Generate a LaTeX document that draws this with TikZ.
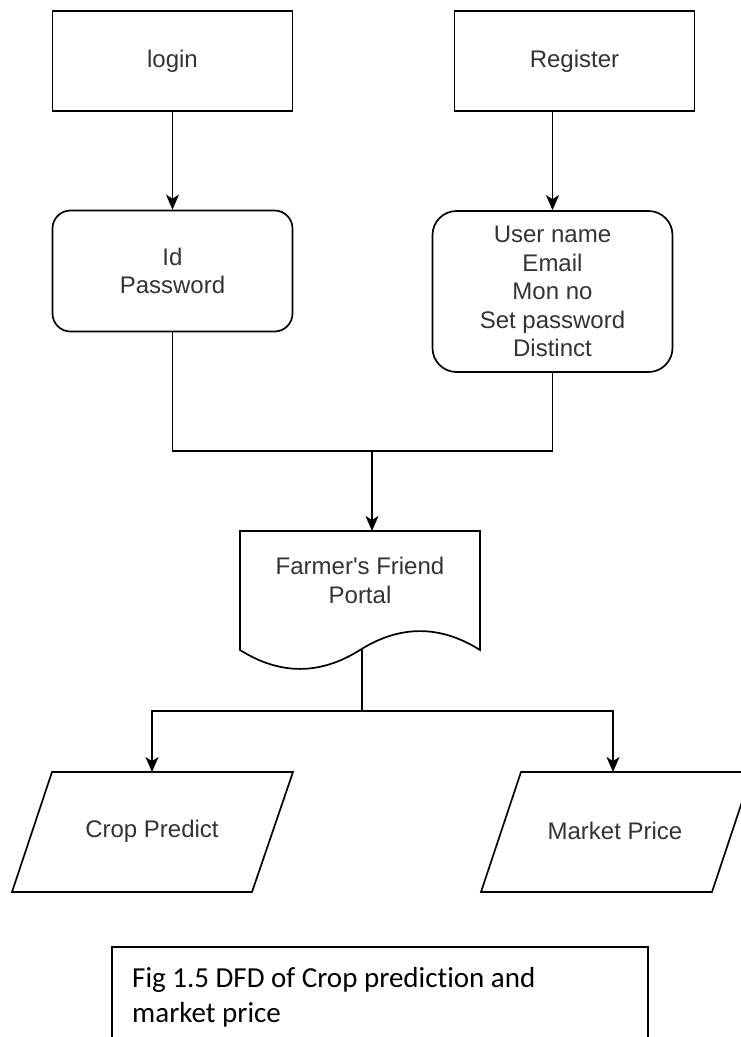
\documentclass[tikz,border=0pt]{standalone}
\usepackage{fontspec}
\setmainfont{Liberation Sans}
\newfontfamily\capfont[Ligatures=NoCommon]{Carlito}
\usetikzlibrary{arrows.meta}
\begin{document}
\begin{tikzpicture}[x=1pt,y=-1pt,
  ln/.style={line width=1.7pt},
  box/.style={draw, line width=1.7pt, minimum width=240pt, inner sep=0pt,
    text=black!80, font=\fontsize{24}{28.5}\selectfont, align=center},
  rbox/.style={box, rounded corners=18pt},
  txt/.style={inner sep=0pt, text=black!80, font=\fontsize{24}{29}\selectfont, align=center},
  arr/.style={line width=1.7pt, -{Stealth[length=15pt,width=13pt,inset=4pt]}},
  capt/.style={inner sep=0pt, font=\capfont\fontsize{29}{35}\selectfont}
]
\useasboundingbox (0,0) rectangle (741,1037);
\fill[white] (0,0) rectangle (741,1037);

% top boxes
\node[box, minimum height=100pt] (login) at (172.5,61) {login};
\node[box, minimum height=100pt] (reg) at (574.5,61) {Register};
\node[rbox, minimum height=121pt] (id) at (172.5,271) {Id\\Password};
\node[rbox, rounded corners=24pt, minimum height=161pt] (det) at (552.5,291.5)
  {User name\\Email\\Mon no\\Set password\\Distinct};

\draw[arr] (login.south) -- (id.north);
\draw[arr] (det.north |- reg.south) -- (det.north);

% bus to portal
\coordinate (bus) at (372,451);
\coordinate (doctop) at (372,531);
\draw[ln] (id.south) |- (bus) -| (det.south);
\draw[arr] (bus) -- (doctop);

% document shape
\draw[ln] (240,531) -- (480,531) -- (480,650)
  .. controls (440,624.8) and (400,624.8) .. (360,650)
  .. controls (320,675.2) and (280,675.2) .. (240,650) -- cycle;
\node[txt] (doc) at (360,580.5) {Farmer\textquotesingle s Friend\\Portal};

% split to outputs
\coordinate (docbot) at (362,649);
\coordinate (bus2) at (362,711);
\coordinate (croptop) at (152,772);
\coordinate (mkttop) at (613,772);
\draw[ln] (docbot) -- (bus2);
\draw[arr] (bus2) -| (croptop);
\draw[arr] (bus2) -| (mkttop);

% parallelograms
\draw[ln] (52,772) -- (293,772) -- (252,892) -- (12,892) -- cycle;
\node[txt] (crop) at (152,831) {Crop Predict};
\draw[ln] (521,772) -- (752,772) -- (712,892) -- (481,892) -- cycle;
\node[txt] (mkt) at (615,831) {Market Price};

% caption box
\draw[ln] (112,1045) -- (112,947) -- (648,947) -- (648,1045);
\node[capt, anchor=base west] (cap1) at (132,987) {Fig 1.5 DFD of Crop prediction and};
\node[capt, anchor=base west] (cap2) at (132,1022.5) {market price};
\end{tikzpicture}
\end{document}
